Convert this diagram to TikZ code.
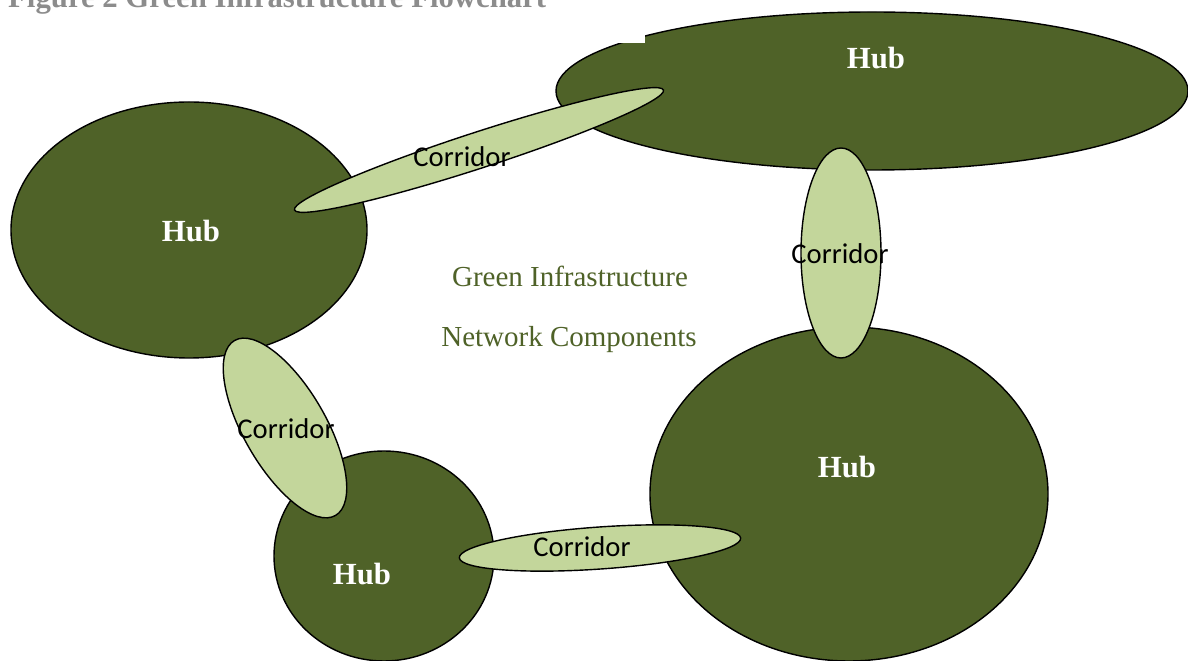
\documentclass[tikz,border=0pt]{standalone}
\usepackage{fontspec}
\setmainfont{Liberation Serif}
\newfontfamily\corrfont{Carlito}
\usepackage{tikz}

\definecolor{hubgreen}{HTML}{4F6228}
\definecolor{corrgreen}{HTML}{C3D69B}
\definecolor{titlegray}{HTML}{8C8C8C}

\tikzset{
  hub/.style={fill=hubgreen, draw=black, thick},
  corridor/.style={fill=corrgreen, draw=black, thick},
  hublabel/.style={text=white, font=\fontsize{17.5}{19}\selectfont\bfseries},
  corrlabel/.style={text=black, font=\corrfont\fontsize{16.3}{18}\selectfont}
}

\begin{document}
\begin{tikzpicture}[x=0.02cm,y=-0.02cm]
\useasboundingbox (0,0) rectangle (1188,661);

%%%%%%%%%%%%%%%%%%%%%%%%%%%%
\node[anchor=base west, text=titlegray, font=\fontsize{17.5}{20}\selectfont\bfseries] (title) at (2,8) {Figure 2 Green Infrastructure Flowchart};

%%%%%%%%%%%%%%%%%%%%%%%%%%%% hubs
\draw[hub] (872,91) ellipse (316 and 79);
\fill[white] (613,-5) rectangle (645,43);
\draw[hub] (189,230) ellipse (178 and 128);
\draw[hub] (849,494) ellipse (199 and 167);
\draw[hub] (384,556) ellipse (110 and 105);

%%%%%%%%%%%%%%%%%%%%%%%%%%%% corridors
\draw[corridor, rotate around={18:(479,150)}] (479,150) ellipse (194 and 18);
\draw[corridor] (841,253) ellipse (40 and 105);
\draw[corridor, rotate around={-60:(285,428)}] (285,428) ellipse (101 and 41);
\draw[corridor, rotate around={4:(600,548)}] (600,548) ellipse (141 and 21);

%%%%%%%%%%%%%%%%%%%%%%%%%%%% labels
\node[hublabel] (hub1) at (876,58) {Hub};
\node[hublabel] (hub2) at (191,231) {Hub};
\node[hublabel] (hub3) at (847,467) {Hub};
\node[hublabel] (hub4) at (362,574) {Hub};

\node[corrlabel] (corr1) at (462,157) {Corridor};
\node[corrlabel] (corr2) at (840,254) {Corridor};
\node[corrlabel] (corr3) at (286,429) {Corridor};
\node[corrlabel] (corr4) at (582,547) {Corridor};

\node[text=hubgreen, font=\fontsize{16.5}{20}\selectfont] (net1) at (570,276) {Green Infrastructure};
\node[text=hubgreen, font=\fontsize{16.5}{20}\selectfont] (net2) at (569,340) {Network Components};
\end{tikzpicture}
\end{document}
